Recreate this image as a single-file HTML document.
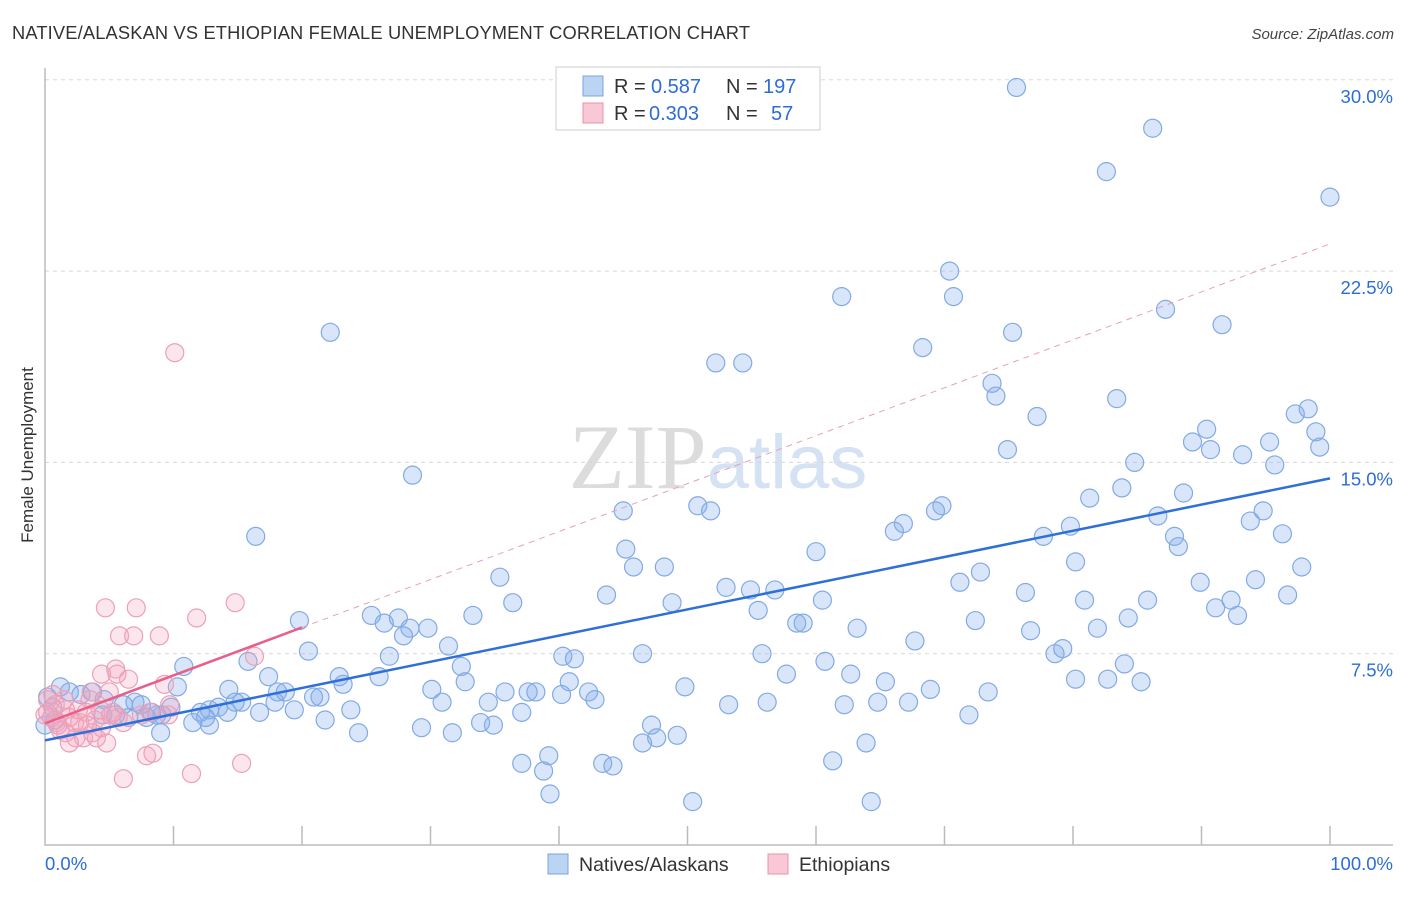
<!DOCTYPE html>
<html><head><meta charset="utf-8"><style>
body{margin:0;background:#fff;font-family:"Liberation Sans",sans-serif;}
svg text{font-family:"Liberation Sans",sans-serif;}
</style></head><body>
<svg id="chart" width="1406" height="892" viewBox="0 0 1406 892" xmlns="http://www.w3.org/2000/svg">
<text x="12" y="39" font-size="18.3" fill="#333" textLength="738">NATIVE/ALASKAN VS ETHIOPIAN FEMALE UNEMPLOYMENT CORRELATION CHART</text>
<text x="1394" y="39" font-size="15" fill="#444" font-style="italic" text-anchor="end">Source: ZipAtlas.com</text>
<text x="718" y="488" font-size="92" text-anchor="middle"><tspan font-family="Liberation Serif" fill="#dcdcdc">ZIP</tspan><tspan fill="#d4e2f4" font-size="76">atlas</tspan></text>
<g id="grid"></g>
<g id="axes"></g>
<g id="pts"></g>
<g id="lines"></g>
<text transform="translate(33,455) rotate(-90)" font-size="17" fill="#333" text-anchor="middle">Female Unemployment</text>
<g>
<rect x="556" y="67" width="264" height="63" fill="#fff" stroke="#ccc"/>
<rect x="583" y="76" width="20" height="20" fill="#bcd4f4" stroke="#7aa4e0"/>
<text x="614" y="93" font-size="20" fill="#333">R =</text>
<text x="651" y="93" font-size="20" fill="#2d6dd6">0.587</text>
<text x="726" y="93" font-size="20" fill="#333">N =</text>
<text x="763" y="93" font-size="20" fill="#2d6dd6">197</text>
<rect x="583" y="103" width="20" height="20" fill="#f8c8d6" stroke="#e890aa"/>
<text x="614" y="120" font-size="20" fill="#333">R =</text>
<text x="649" y="120" font-size="20" fill="#2d6dd6">0.303</text>
<text x="726" y="120" font-size="20" fill="#333">N =</text>
<text x="771" y="120" font-size="20" fill="#2d6dd6">57</text>
</g>
<g>
<rect x="548" y="854" width="20" height="20" fill="#bcd4f4" stroke="#7aa4e0"/>
<text x="579" y="871" font-size="19.5" fill="#333">Natives/Alaskans</text>
<rect x="768" y="854" width="20" height="20" fill="#f8c8d6" stroke="#e890aa"/>
<text x="799" y="871" font-size="19.5" fill="#333">Ethiopians</text>
</g>
</svg>
<script>
const yTicks=[7.5,15,22.5,30];
const yTickLabels=["7.5%","15.0%","22.5%","30.0%"];
const xTickLabels=["0.0%","100.0%"];
const blueX=[75.6,86.2,82.6,100,70.4,62.0,70.7,22.2,87.2,91.6,75.3,68.3,52.2,54.3,73.7,74.0,83.4,77.2,98.3,97.3,90.4,89.3,98.9,99.2,74.9,90.7,93.2,95.3,95.7,84.8,28.6,83.8,88.6,81.3,86.6,94.8,93.8,96.3,66.1,66.8,69.3,69.8,50.8,51.8,45.0,79.8,77.7,87.9,88.2,45.2,16.4,60.0,45.8,48.2,80.2,35.4,72.8,71.2,94.2,89.9,97.8,53.0,54.9,56.8,43.7,76.3,85.8,80.9,92.3,96.7,91.1,92.8,36.4,48.8,55.5,60.5,33.3,25.4,27.5,19.8,26.4,28.4,29.8,27.9,72.4,58.5,59.0,63.2,76.7,81.9,84.3,67.7,31.4,26.8,20.5,40.3,41.2,46.5,55.8,78.6,79.2,84.0,15.8,10.8,32.4,57.7,60.7,62.7,80.2,82.7,85.3,65.4,22.9,23.2,26.0,17.4,32.7,40.8,30.1,38.2,35.8,10.3,49.8,68.9,73.4,14.3,18.1,18.7,17.9,20.9,21.4,42.3,42.8,37.6,40.2,34.5,30.9,14.8,15.3,13.5,12.8,14.2,12.1,12.5,16.7,19.4,37.1,23.8,53.2,56.2,62.2,64.8,67.2,71.9,47.2,47.6,49.2,46.5,63.9,61.3,39.2,37.1,38.8,43.4,44.2,39.3,50.4,64.3,21.8,11.5,9.1,8.7,9.0,29.3,31.7,34.9,33.9,24.4,12.8,0.2,0.6,1.2,1.9,2.8,3.7,4.5,5.5,6.5,7.5,7.9,8.3,9.8,0.8,0,6.1,7.0,4.6];
const blueY=[29.7,28.1,26.4,25.4,22.5,21.5,21.5,20.1,21.0,20.4,20.1,19.5,18.9,18.9,18.1,17.6,17.5,16.8,17.1,16.9,16.3,15.8,16.2,15.6,15.5,15.5,15.3,15.8,14.9,15.0,14.5,14.0,13.8,13.6,12.9,13.1,12.7,12.2,12.3,12.6,13.1,13.3,13.3,13.1,13.1,12.5,12.1,12.1,11.7,11.6,12.1,11.5,10.9,10.9,11.1,10.5,10.7,10.3,10.4,10.3,10.9,10.1,10.0,10.0,9.8,9.9,9.6,9.6,9.6,9.8,9.3,9.0,9.5,9.5,9.2,9.6,9.0,9.0,8.9,8.8,8.7,8.5,8.5,8.2,8.8,8.7,8.7,8.5,8.4,8.5,8.9,8.0,7.8,7.4,7.6,7.4,7.3,7.5,7.5,7.5,7.7,7.1,7.2,7.0,7.0,6.7,7.2,6.7,6.5,6.5,6.4,6.4,6.6,6.3,6.6,6.6,6.4,6.4,6.1,6.0,6.0,6.2,6.2,6.1,6.0,6.1,6.0,6.0,5.6,5.8,5.8,6.0,5.7,6.0,5.9,5.6,5.6,5.6,5.6,5.4,5.3,5.2,5.2,5.0,5.2,5.3,5.2,5.3,5.5,5.6,5.5,5.6,5.6,5.1,4.7,4.2,4.3,4.0,4.0,3.3,3.5,3.2,2.9,3.2,3.1,2.0,1.7,1.7,4.9,4.8,5.1,5.1,4.4,4.6,4.4,4.7,4.8,4.4,4.7,5.8,5.4,6.2,6.0,5.9,6.0,5.1,5.1,5.0,5.5,5.0,5.2,5.4,4.9,4.7,5.5,5.6,5.7];
const pinkX=[10.1,4.7,7.1,11.8,14.8,5.8,6.9,8.9,4.4,5.5,6.5,16.3,5.6,9.3,3.6,3.5,5.0,1.5,0.8,0.2,0.5,0.9,1.6,1.9,2.3,2.6,3.2,3.9,4.3,5.1,5.7,6.1,7.5,8.2,9.7,9.6,1.2,1.6,2.4,3.0,3.7,4.4,1.9,4.8,7.9,8.4,6.1,11.4,15.3,0.2,0.6,1.0,0,2.7,3.3,4.0,5.3];
const pinkY=[19.3,9.3,9.3,8.9,9.5,8.2,8.2,8.2,6.7,6.9,6.5,7.4,6.7,6.3,6.0,5.7,6.0,5.7,5.5,5.2,5.0,4.8,5.3,5.0,4.8,5.3,5.2,4.9,5.3,5.1,5.0,4.8,5.1,5.2,5.5,5.1,4.5,4.4,4.2,4.2,4.4,4.6,4.0,4.0,3.5,3.6,2.6,2.8,3.2,5.7,5.9,4.7,5.1,4.8,4.7,4.2,5.2];

const NS="http://www.w3.org/2000/svg";
const X0=45,X1=1330,Y0=845,YPER=191.3/7.5;
const sx=v=>X0+(X1-X0)*v/100;
const sy=v=>Y0-v*YPER;
function mk(tag,attrs,parent){const e=document.createElementNS(NS,tag);for(const k in attrs)e.setAttribute(k,attrs[k]);parent.appendChild(e);return e;}
const grid=document.getElementById('grid'),axes=document.getElementById('axes'),pts=document.getElementById('pts'),lines=document.getElementById('lines');
yTicks.forEach((t,i)=>{
  const l=mk('line',{x1:X0,x2:1393,y1:sy(t),y2:sy(t),stroke:'#d8d8d8','stroke-dasharray':'4,4'},grid);
  
  
  const tx=mk('text',{x:1393,y:sy(t)+23,'font-size':18.5,fill:'#2d6dd6','text-anchor':'end'},axes);
  tx.textContent=yTickLabels[i];
  
  
});
const ax=mk('path',{d:`M${X0},68 V${Y0} H1393`,stroke:'#bbb',fill:'none','stroke-width':1.5},axes);


for(let i=1;i<=10;i++){
  const t=mk('line',{x1:sx(i*10),x2:sx(i*10),y1:Y0-19,y2:Y0,stroke:'#bbb','stroke-width':1.5},axes);
  
  
}
[[0,'start',X0],[1,'end',1393]].forEach(([i,a,x])=>{
  const t=mk('text',{x:x,y:870,'font-size':18.5,fill:'#2d6dd6','text-anchor':a},axes);
  t.textContent=xTickLabels[i];
  
  
});
blueX.forEach((v,i)=>{
  const c=mk('circle',{cx:sx(v),cy:sy(blueY[i]),r:9,fill:'rgba(130,172,235,0.3)',stroke:'#82aae4','stroke-width':1.2},pts);
  
  
});
pinkX.forEach((v,i)=>{
  const c=mk('circle',{cx:sx(v),cy:sy(pinkY[i]),r:9,fill:'rgba(244,165,190,0.28)',stroke:'#eca0b8','stroke-width':1.2},pts);
  
  
});
function fit(xs,ys){const n=xs.length;let mx=0,my=0;for(let i=0;i<n;i++){mx+=xs[i];my+=ys[i];}mx/=n;my/=n;let sxy=0,sxx=0;for(let i=0;i<n;i++){sxy+=(xs[i]-mx)*(ys[i]-my);sxx+=(xs[i]-mx)**2;}const b=sxy/sxx;return [my-b*mx,b];}
const [ba,bb]=fit(blueX,blueY);
const bl=mk('line',{x1:sx(0),y1:sy(ba),x2:sx(100),y2:sy(ba+bb*100),stroke:'#2f6fd8','stroke-width':2.5},lines);


const [pa,pb]=fit(pinkX,pinkY);
const pl=mk('line',{x1:sx(0),y1:sy(pa),x2:sx(20),y2:sy(pa+pb*20),stroke:'#e8608a','stroke-width':2.5},lines);


const pd=mk('line',{x1:sx(20),y1:sy(pa+pb*20),x2:sx(100),y2:sy(pa+pb*100),stroke:'#e8a0b6','stroke-width':1,'stroke-dasharray':'6,5'},lines);


</script>
</body></html>
